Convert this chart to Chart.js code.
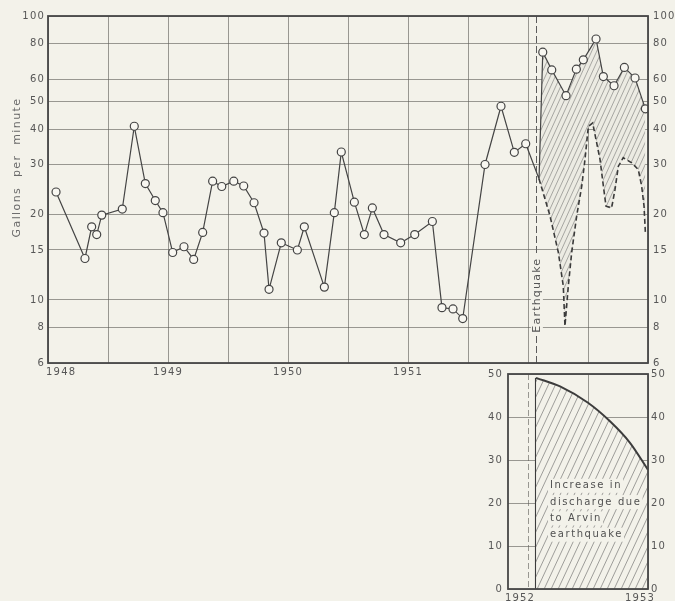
<!DOCTYPE html>
<html>
<head>
<meta charset="utf-8">
<script src="https://cdn.jsdelivr.net/npm/chart.js@4.4.1/dist/chart.umd.min.js"></script>
<style>
  html, body { margin: 0; padding: 0; background: #f3f2ea; }
  #wrap { position: relative; width: 675px; height: 601px; overflow: hidden; }
  #wrap canvas { position: absolute; left: 0; top: 0; }
</style>
</head>
<body>
<div id="wrap">
  <canvas id="main" width="675" height="601"></canvas>
  <canvas id="inset" width="675" height="601"></canvas>
</div>
<script>
// ---- Well discharge record, gallons per minute (decimal years) ----
const observedYear = [
  1948.067, 1948.308, 1948.364, 1948.406, 1948.448, 1948.619, 1948.719, 1948.811, 1948.894, 1948.958,
  1949.039, 1949.133, 1949.214, 1949.289, 1949.372, 1949.448, 1949.548, 1949.631, 1949.717, 1949.800,
  1949.842, 1949.944, 1950.078, 1950.136, 1950.303, 1950.386, 1950.444, 1950.553, 1950.636, 1950.703,
  1950.800, 1950.939, 1951.056, 1951.203, 1951.283, 1951.375, 1951.456, 1951.642, 1951.775, 1951.886,
  1951.981, 1952.092, 1952.123, 1952.198, 1952.317, 1952.403, 1952.461, 1952.567, 1952.628, 1952.717,
  1952.803, 1952.892, 1952.978
];
const observedGpm = [
  24.0, 14.0, 18.1, 17.0, 19.9, 20.9, 40.9, 25.7, 22.4, 20.3,
  14.7, 15.4, 13.9, 17.3, 26.2, 25.1, 26.2, 25.2, 22.0, 17.2,
  10.9, 15.9, 15.0, 18.1, 11.1, 20.3, 33.2, 22.1, 17.0, 21.1,
  17.0, 15.9, 17.0, 18.9, 9.4, 9.3, 8.6, 30.0, 48.1, 33.1,
  35.5, 26.7, 74.6, 64.6, 52.4, 65.0, 70.1, 83.0, 61.2, 56.8,
  65.9, 60.5, 47.1
];
// reading taken at the moment of the shock (drawn without a circle)
const shockReadingIndex = 41;

// Estimated discharge had there been no earthquake (dashed)
const withoutQuakeYear = [
  1952.092, 1952.183, 1952.253, 1952.294, 1952.308, 1952.336, 1952.364, 1952.406, 1952.448, 1952.475,
  1952.503, 1952.539, 1952.572, 1952.600, 1952.628, 1952.650, 1952.697, 1952.725, 1952.753, 1952.794,
  1952.864, 1952.919, 1952.947, 1952.967, 1952.978
];
const withoutQuakeGpm = [
  26.7, 19.8, 14.7, 11.2, 8.1, 11.2, 14.7, 19.8, 25.2, 31.3,
  40.9, 42.0, 35.8, 31.3, 25.2, 21.4, 21.1, 24.5, 29.6, 31.7,
  30.4, 28.8, 25.2, 21.4, 17.3
];

// Increase in discharge due to the Arvin earthquake (inset)
const increaseYear = [1952.067, 1952.267, 1952.500, 1952.683, 1952.850, 1953.000];
const increaseGpm  = [49.1, 47.1, 43.3, 39.0, 34.0, 27.7];

const quakeYear = 1952.07;

// Axis ticks and labels
const halfYearTicks = [1948, 1948.5, 1949, 1949.5, 1950, 1950.5, 1951, 1951.5, 1952, 1952.5, 1953];
const mainYearLabels = [1948, 1949, 1950, 1951];
const gpmTicks = [6, 8, 10, 15, 20, 30, 40, 50, 60, 80, 100];
const insetYearTicks = [1952, 1952.5, 1953];
const insetYearLabels = [1952, 1953];
const increaseTicks = [0, 10, 20, 30, 40, 50];
const noteLines = ['Increase in', 'discharge due', 'to Arvin', 'earthquake'];

// ---- Styling ----
const PAPER = '#f3f2ea';
const INK = '#444444';
const LABEL = '#565656';
const GRID = 'rgba(95,95,90,0.62)';
const FONT = 'DejaVu Sans';

Chart.defaults.font.family = FONT;
Chart.defaults.color = LABEL;

function hatch(spacing, rise, bg, ink, width) {
  const tile = document.createElement('canvas');
  tile.width = spacing; tile.height = rise;
  const g = tile.getContext('2d');
  g.fillStyle = bg; g.fillRect(0, 0, spacing, rise);
  g.strokeStyle = ink; g.lineWidth = width;
  for (const dx of [-spacing, 0, spacing]) {
    g.beginPath(); g.moveTo(dx, rise); g.lineTo(dx + spacing, 0); g.stroke();
  }
  return g.createPattern(tile, 'repeat');
}
const mainHatch = hatch(5, 11, '#ecebe3', 'rgba(95,95,95,0.55)', 0.9);
const insetHatch = hatch(7, 15, PAPER, 'rgba(85,85,85,0.6)', 0.9);

const setTicks = values => scale => { scale.ticks = values.map(v => ({ value: v })); };

// ---- Main record chart ----
const mainDecor = {
  id: 'mainDecor',
  beforeDraw(chart) { chart.ctx.letterSpacing = '1.2px'; },
  beforeDatasetsDraw(chart) {
    const { ctx, chartArea: a, scales: { x } } = chart;
    const qx = Math.round(x.getPixelForValue(quakeYear)) + 0.5;
    ctx.save();
    ctx.strokeStyle = '#5c5c5c'; ctx.lineWidth = 1; ctx.setLineDash([7, 3]);
    ctx.beginPath(); ctx.moveTo(qx, a.top); ctx.lineTo(qx, a.bottom); ctx.stroke();
    ctx.restore();
  },
  afterDatasetsDraw(chart) {
    const { ctx, chartArea: a, scales: { x, y } } = chart;
    ctx.save();
    // frame
    ctx.strokeStyle = '#474747'; ctx.lineWidth = 1.8;
    ctx.strokeRect(a.left, a.top, a.right - a.left, a.bottom - a.top);
    // earthquake label
    const qx = x.getPixelForValue(quakeYear) + 0.5;
    const qy = y.getPixelForValue(10.4);
    ctx.font = '11px ' + FONT;
    ctx.letterSpacing = '1.2px';
    const w = ctx.measureText('Earthquake').width;
    ctx.translate(qx, qy); ctx.rotate(-Math.PI / 2);
    ctx.fillStyle = PAPER; ctx.fillRect(-w / 2 - 2, -6, w + 4, 12);
    ctx.fillStyle = LABEL; ctx.textAlign = 'center'; ctx.textBaseline = 'middle';
    ctx.fillText('Earthquake', 0, 0);
    ctx.restore();
    // y title
    ctx.save();
    ctx.font = '11px ' + FONT;
    ctx.letterSpacing = '1.4px';
    ctx.translate(17, (a.top + a.bottom) / 2 - 22); ctx.rotate(-Math.PI / 2);
    ctx.fillStyle = '#6a6a6a'; ctx.textAlign = 'center'; ctx.textBaseline = 'middle';
    ctx.fillText('Gallons  per  minute', 0, 0);
    ctx.restore();
  }
};

new Chart(document.getElementById('main'), {
  type: 'line',
  data: {
    datasets: [
      {
        label: 'Observed',
        data: observedYear.map((x, i) => ({ x, y: observedGpm[i] })),
        borderColor: INK, borderWidth: 1.2, tension: 0, fill: false,
        pointRadius: observedYear.map((_, i) => i === shockReadingIndex ? 0 : 4),
        pointBackgroundColor: '#f8f7f1', pointBorderColor: INK, pointBorderWidth: 1.2
      },
      {
        label: 'Without earthquake',
        data: withoutQuakeYear.map((x, i) => ({ x, y: withoutQuakeGpm[i] })),
        borderColor: '#3a3a3a', borderWidth: 1.6, borderDash: [5, 3], tension: 0,
        pointRadius: 0, fill: '-1', backgroundColor: mainHatch
      }
    ]
  },
  options: {
    responsive: false, animation: false, events: [],
    layout: { padding: { top: 16, left: 0, right: 0, bottom: 221 } },
    plugins: { legend: { display: false }, tooltip: { enabled: false } },
    scales: {
      x: {
        type: 'linear', min: 1948, max: 1953,
        afterBuildTicks: setTicks(halfYearTicks),
        afterFit: s => { s.height = 17; },
        grid: { color: GRID, lineWidth: 1, drawTicks: false },
        border: { display: false },
        ticks: {
          autoSkip: false, maxRotation: 0, padding: 3, color: LABEL, font: { size: 10 },
          callback: v => mainYearLabels.includes(v) ? (v === 1948 ? '      ' + v : String(v)) : ''
        }
      },
      y: {
        type: 'logarithmic', position: 'left', min: 6, max: 100,
        afterBuildTicks: setTicks(gpmTicks),
        afterFit: s => { s.width = 48; },
        grid: { color: GRID, lineWidth: 1, drawTicks: false },
        border: { display: false },
        ticks: { padding: 3, color: LABEL, font: { size: 10 }, callback: v => gpmTicks.includes(v) ? String(v) : '' }
      },
      y2: {
        type: 'logarithmic', position: 'right', min: 6, max: 100,
        afterBuildTicks: setTicks(gpmTicks),
        afterFit: s => { s.width = 27; },
        grid: { drawOnChartArea: false, drawTicks: false },
        border: { display: false },
        ticks: { padding: 5, color: LABEL, font: { size: 10 }, callback: v => gpmTicks.includes(v) ? String(v) : '' }
      }
    }
  },
  plugins: [mainDecor]
});

// ---- Inset: increase in discharge ----
const insetDecor = {
  id: 'insetDecor',
  beforeDraw(chart) { chart.ctx.letterSpacing = '1.1px'; },
  afterDatasetsDraw(chart) {
    const { ctx, chartArea: a, scales: { x, y } } = chart;
    ctx.save();
    ctx.strokeStyle = '#474747'; ctx.lineWidth = 1.8;
    ctx.strokeRect(a.left, a.top, a.right - a.left, a.bottom - a.top);
    ctx.font = '10px ' + FONT;
    ctx.letterSpacing = '1.6px';
    ctx.textBaseline = 'middle'; ctx.textAlign = 'left';
    const tx = x.getPixelForValue(1952.183);
    const ty = y.getPixelForValue(24);
    noteLines.forEach((line, i) => {
      const w = ctx.measureText(line).width;
      const cy = ty + i * 16.3;
      ctx.fillStyle = PAPER; ctx.fillRect(tx - 2, cy - 7, w + 3, 14);
      ctx.fillStyle = '#505050'; ctx.fillText(line, tx, cy);
    });
    ctx.restore();
  }
};

new Chart(document.getElementById('inset'), {
  type: 'line',
  data: {
    datasets: [
      {
        label: 'Increase',
        data: increaseYear.map((x, i) => ({ x, y: increaseGpm[i] })),
        borderColor: '#3c3c3c', borderWidth: 2, pointRadius: 0,
        cubicInterpolationMode: 'monotone', fill: 'origin', backgroundColor: insetHatch
      },
      {
        label: 'Shock',
        data: [{ x: increaseYear[0], y: 0 }, { x: increaseYear[0], y: increaseGpm[0] }],
        borderColor: '#3c3c3c', borderWidth: 2.2, pointRadius: 0, fill: false
      }
    ]
  },
  options: {
    responsive: false, animation: false, events: [],
    layout: { padding: { top: 374, left: 470, right: 0, bottom: 0 } },
    plugins: { legend: { display: false }, tooltip: { enabled: false } },
    scales: {
      x: {
        type: 'linear', min: 1951.8333, max: 1953,
        afterBuildTicks: setTicks(insetYearTicks),
        afterFit: s => { s.height = 12; },
        grid: { color: GRID, lineWidth: 1, drawTicks: false },
        border: { display: false, dash: c => (c.tick && c.tick.value === 1952) ? [6, 3] : [] },
        ticks: {
          autoSkip: false, maxRotation: 0, padding: 3, labelOffset: -8, color: LABEL, font: { size: 10 },
          callback: v => insetYearLabels.includes(v) ? String(v) : ''
        }
      },
      y: {
        type: 'linear', position: 'left', min: 0, max: 50,
        afterBuildTicks: setTicks(increaseTicks),
        afterFit: s => { s.width = 38; },
        grid: { color: GRID, lineWidth: 1, drawTicks: false },
        border: { display: false },
        ticks: { padding: 5, color: LABEL, font: { size: 10 } }
      },
      y2: {
        type: 'linear', position: 'right', min: 0, max: 50,
        afterBuildTicks: setTicks(increaseTicks),
        afterFit: s => { s.width = 27; },
        grid: { drawOnChartArea: false, drawTicks: false },
        border: { display: false },
        ticks: { padding: 3, color: LABEL, font: { size: 10 } }
      }
    }
  },
  plugins: [insetDecor]
});
</script>
</body>
</html>
